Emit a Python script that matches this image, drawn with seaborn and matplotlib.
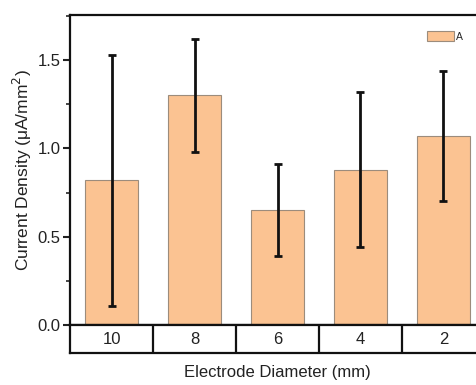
import matplotlib
matplotlib.use("Agg")
import matplotlib.pyplot as plt
import seaborn as sns
import pandas as pd
import numpy as np
from matplotlib.ticker import MultipleLocator

categories = ["10", "8", "6", "4", "2"]
means = [0.82, 1.30, 0.65, 0.88, 1.07]
errors = [0.71, 0.32, 0.26, 0.44, 0.37]
series_label = "A"

sns.set_style("white")
plt.rcParams['font.family'] = ['Liberation Sans', 'DejaVu Sans']

df = pd.DataFrame({"Diameter": categories, "Density": means})

fig = plt.figure(figsize=(4.77, 3.85), dpi=100)
W, H = 477, 385
ax = fig.add_axes([70 / W, 1 - 325 / H, 415 / W, 310 / H])
axt = fig.add_axes([70 / W, 1 - 353 / H, 415 / W, 28 / H], sharex=ax)

sns.barplot(data=df, x="Diameter", y="Density", order=categories, color="#FBC392",
            edgecolor="#9C8C7C", linewidth=0.8, width=0.65, errorbar=None,
            saturation=1, ax=ax, label=series_label)
ax.errorbar(np.arange(len(categories)), means, yerr=errors, fmt="none",
            ecolor="#111111", elinewidth=2.0, capsize=2.6, capthick=2.0)

ax.set_ylim(0, 1.755)
ax.set_xlim(-0.5, len(categories) - 0.5)
ax.yaxis.set_major_locator(MultipleLocator(0.5))
ax.yaxis.set_minor_locator(MultipleLocator(0.25))
ax.yaxis.set_major_formatter(matplotlib.ticker.FormatStrFormatter("%.1f"))
ax.tick_params(axis="y", which="major", direction="out", length=5, width=1.5,
               labelsize=12, left=True, pad=2, colors="#222222")
ax.tick_params(axis="y", which="minor", direction="out", length=3, width=1.2, left=True)
ax.tick_params(axis="x", bottom=False, labelbottom=False)
ax.set_xlabel("")
ax.set_ylabel("Current Density (μA/mm$^2$)", fontsize=12.5, color="#222222", labelpad=2)
for s in ax.spines.values():
    s.set_linewidth(1.6)
    s.set_color("#111111")

leg = ax.legend(loc="upper right", bbox_to_anchor=(470 / W, 1 - 24 / H),
                bbox_transform=fig.transFigure, frameon=False, fontsize=7.5,
                handlelength=2.6, handleheight=1.0, handletextpad=0.2,
                borderpad=0.2)

# category table below the axis
axt.set_ylim(0, 1)
axt.set_yticks([])
axt.set_xticks(np.arange(len(categories)))
axt.set_xticklabels(categories)
axt.tick_params(axis="x", bottom=False, labelbottom=False)
for i, c in enumerate(categories):
    axt.text(i, 0.5, c, ha="center", va="center", fontsize=12, color="#222222")
for b in np.arange(len(categories) - 1) + 0.5:
    axt.axvline(b, color="#111111", lw=1.6)
for s in axt.spines.values():
    s.set_linewidth(1.6)
    s.set_color("#111111")
axt.set_xlabel("Electrode Diameter (mm)", fontsize=12, color="#222222", labelpad=9)

fig.savefig("out.png", dpi=100)
